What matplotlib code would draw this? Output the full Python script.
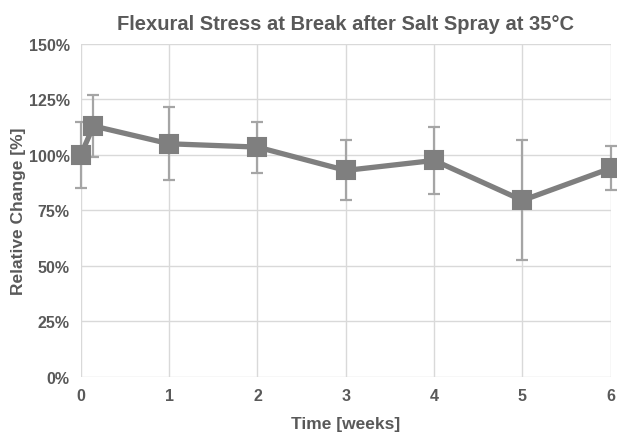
import numpy as np
import matplotlib.pyplot as plt

# data
weeks = [0, 1/7, 1, 2, 3, 4, 5, 6]
rel_change = [100, 113, 105, 103.5, 93, 97.5, 79.5, 94]
err = [15, 14, 16.5, 11.5, 13.5, 15, 27, 10]
y_ticks = [0, 25, 50, 75, 100, 125, 150]

plt.rcParams['font.family'] = ['Liberation Sans', 'DejaVu Sans']
text_col = '#595959'

fig = plt.figure(figsize=(6.17, 4.35), dpi=100)
ax = fig.add_axes([0.131, 0.131, 0.859, 0.766])

ax.errorbar(weeks, rel_change, yerr=err, fmt='none', ecolor='#a5a5a5',
            elinewidth=1.6, capsize=4.5, capthick=1.6, clip_on=False, zorder=2)
ax.plot(weeks, rel_change, color='#7f7f7f', lw=3.8, marker='s', markersize=13,
        markeredgewidth=1.5, markeredgecolor='#7f7f7f', solid_joinstyle='round',
        clip_on=False, zorder=3)

ax.set_xlim(0, 6)
ax.set_ylim(0, 150)
ax.set_xticks(range(7))
ax.set_yticks(y_ticks)
ax.set_yticklabels([f'{v}%' for v in y_ticks])
ax.grid(True, color='#d9d9d9', lw=1)
ax.set_axisbelow(True)
for s in ax.spines.values():
    s.set_visible(False)
ax.tick_params(length=0, labelsize=11.5, labelcolor=text_col, pad=8)
for lab in ax.get_xticklabels() + ax.get_yticklabels():
    lab.set_fontweight('bold')

ax.set_xlabel('Time [weeks]', fontsize=12.5, fontweight='bold', color=text_col, labelpad=9)
ax.set_ylabel('Relative Change [%]', fontsize=12.5, fontweight='bold', color=text_col, labelpad=2)
ax.set_title('Flexural Stress at Break after Salt Spray at 35°C', fontsize=14.5,
             fontweight='bold', color=text_col, pad=11)

plt.savefig('out.png', dpi=100)
